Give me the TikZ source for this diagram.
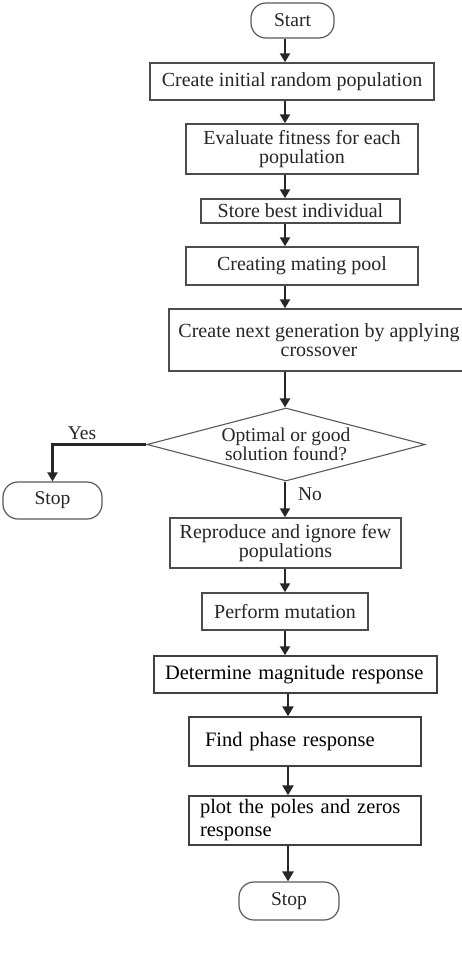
\documentclass[tikz,border=0pt]{standalone}
\usepackage{fontspec}
\setmainfont{Liberation Serif}
\usetikzlibrary{shapes.geometric,arrows.meta}
\begin{document}
\begin{tikzpicture}[x=1pt,y=-1pt,
 box/.style={draw=black!70, line width=1.5pt, rectangle, inner sep=0pt, align=center,
   font=\fontsize{20}{18.5}\selectfont, text=black!85},
 lbox/.style={box, draw=black!75, align=left, font=\fontsize{20.5}{23}\selectfont, text=black},
 term/.style={draw=black!65, line width=1.2pt, rounded corners=15pt, inner sep=0pt,
   font=\fontsize{19.5}{20}\selectfont, text=black!85},
 dec/.style={diamond, draw=black!65, line width=1.1pt, inner sep=0pt, aspect=3.8, align=center,
   font=\fontsize{19.5}{16.5}\selectfont, text=black!85},
 arr/.style={line width=2.2pt, draw=black!85, -{Triangle[length=9pt,width=10pt]}},
 arrb/.style={arr, line width=2.8pt, -{Triangle[length=10pt,width=11pt]}},
 lbl/.style={font=\fontsize{19.5}{20}\selectfont, inner sep=0pt, text=black!85}]
\useasboundingbox (0,0) rectangle (462,956);
\fill[white] (0,0) rectangle (462,956);
\coordinate (ax) at (285,0);
\coordinate (bx) at (288,0);
\node[term, minimum width=83pt, minimum height=35pt] (start) at (292.5,20.5) {Start};
\node[box, minimum width=284pt, minimum height=37pt] (b1) at (292,81.5) {Create initial random population};
\node[box, minimum width=232pt, minimum height=50pt] (b2) at (302,149) {Evaluate fitness for each\\population};
\node[box, minimum width=199pt, minimum height=24pt] (b3) at (300.5,211) {Store best individual};
\node[box, minimum width=232pt, minimum height=38pt] (b4) at (302,266) {Creating mating pool};
\node[box, minimum width=300pt, minimum height=62pt] (b5) at (319,340) {Create next generation by applying\\crossover};
\node[dec, minimum width=278pt, minimum height=73pt] (d) at (286,444.5) {Optimal or good\\solution found?};
\node[term, minimum width=99pt, minimum height=37pt] (stop1) at (52.5,500.5) {Stop};
\node[box, minimum width=231pt, minimum height=50pt] (b6) at (285.5,543) {Reproduce and ignore few\\populations};
\node[box, minimum width=166pt, minimum height=37pt] (b7) at (285,611.5) {Perform mutation};
\node[lbox, minimum width=283pt, minimum height=37pt, text width=261pt] (b8) at (295.5,674.5) {Determine magnitude response};
\node[lbox, minimum width=232pt, minimum height=49pt, text width=200pt] (b9) at (305,741.5) {Find phase response};
\node[lbox, minimum width=232pt, minimum height=49pt, text width=210pt] (b10) at (305,820.5) {plot the poles and zeros\\response};
\node[term, minimum width=100pt, minimum height=38pt] (stop2) at (289,901) {Stop};
\node[lbl] (yes) at (82,433) {Yes};
\node[lbl] (no) at (310,494) {No};
\draw[arr] (start.south -| ax) -- (b1.north -| ax);
\draw[arr] (b1.south -| ax) -- (b2.north -| ax);
\draw[arr] (b2.south -| ax) -- (b3.north -| ax);
\draw[arr] (b3.south -| ax) -- (b4.north -| ax);
\draw[arr] (b4.south -| ax) -- (b5.north -| ax);
\draw[arr] (b5.south -| ax) -- (d.north -| ax);
\draw[arr] (d.south -| ax) -- (b6.north -| ax);
\draw[arr] (b6.south -| ax) -- (b7.north -| ax);
\draw[arr] (b7.south -| ax) -- (b8.north -| ax);
\draw[arrb] (b8.south -| bx) -- (b9.north -| bx);
\draw[arrb] (b9.south -| bx) -- (b10.north -| bx);
\draw[arrb] (b10.south -| bx) -- (stop2.north -| bx);
\draw[arr] (d.west) -| (stop1.north);
\end{tikzpicture}
\end{document}
